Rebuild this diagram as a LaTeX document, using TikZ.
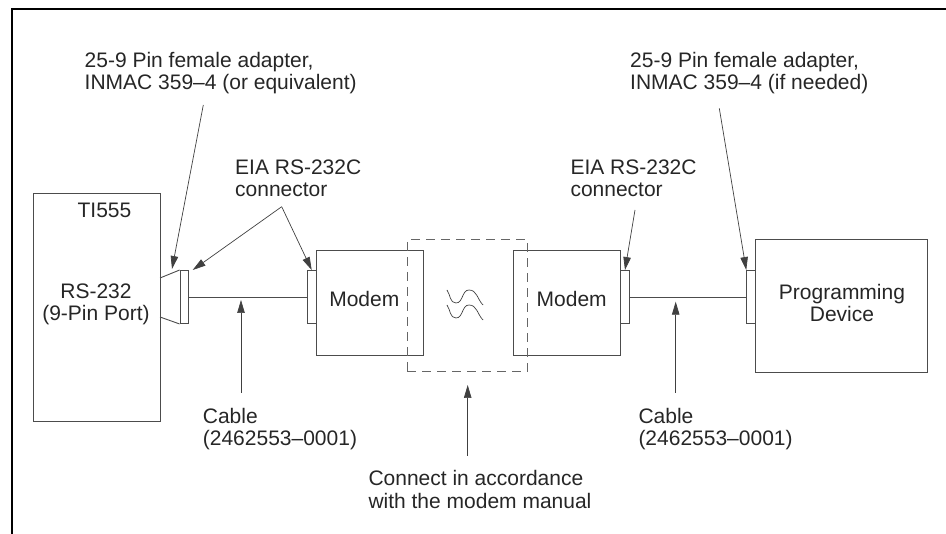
\documentclass[tikz,border=0pt]{standalone}
\usepackage{fontspec}
\setmainfont{Liberation Sans}
\usetikzlibrary{positioning, arrows.meta, calc}

\begin{document}
\begin{tikzpicture}[x=1pt, y=-1pt,
          unit/.style={draw=black!70, line width=0.9pt, inner sep=0pt},
          plug/.style={draw=black!70, line width=0.9pt, inner sep=0pt, minimum width=9pt, minimum height=53pt},
          wire/.style={draw=black!70, line width=0.9pt},
          lbl/.style={font=\fontsize{21}{22.5}\selectfont, text=black!85, inner sep=0pt, align=left},
          ptr/.style={-{Triangle[length=13pt,width=7.5pt]}, draw=black!75, line width=0.7pt},
        ]
        \useasboundingbox (0,0) rectangle (946,534);
        \draw[line width=2pt] (12,534) -- (12,9.5) -- (946,9.5);
        % units
        \node[unit, minimum width=127pt, minimum height=228pt] (plc) at (96.5,307) {};
        \node[plug, minimum width=8pt] (adp) at (184,297) {};
        \draw[wire] (160,278) -- (adp.north west);
        \draw[wire] (160,317) -- (adp.south west);
        \node[plug] (con1) at (311.7,297) {};
        \node[unit, minimum width=106.7pt, minimum height=105pt] (modem1) at (370,302.5) {};
        \node[unit, minimum width=106.7pt, minimum height=105pt] (modem2) at (566.7,302.5) {};
        \node[plug] (con2) at (625,297) {};
        \node[plug] (con3) at (751.2,297) {};
        \node[unit, minimum width=171.6pt, minimum height=132.7pt] (prog) at (841.5,306.3) {};
        \node[draw=black!60, line width=0.9pt, dash pattern=on 9pt off 6pt, minimum width=120pt, minimum height=132.4pt] (link) at (467.3,305.5) {};
        \draw[wire] (adp.east) -- (con1.west);
        \draw[wire] (con2.east) -- (con3.west);
        \draw[black!75, line width=0.7pt] (447,290) to[out=-55,in=180] (456,303) to[out=0,in=180] (469,290) to[out=0,in=135] (483,305);
        \draw[black!75, line width=0.7pt] (447,305) to[out=-55,in=180] (456,318) to[out=0,in=180] (469,305) to[out=0,in=135] (483,320);
        % texts in the units
        \node[lbl, anchor=base] (plcname) at (104.5,217.7) {TI555};
        \node[lbl, anchor=base, align=center] (port) at (96,321) {RS-232\\(9-Pin Port)};
        \node[lbl, anchor=base] (mtxt1) at (364.3,306.7) {Modem};
        \node[lbl, anchor=base] (mtxt2) at (571.7,306.7) {Modem};
        \node[lbl, anchor=base, align=center] (progtxt) at (842,321.7) {Programming\\Device};
        % notes (base = last line)
        \node[lbl, anchor=base west] (adpnote1) at (84.5,90) {25-9 Pin female adapter,\\INMAC 359--4 (or equivalent)};
        \node[lbl, anchor=base west] (adpnote2) at (630,90) {25-9 Pin female adapter,\\INMAC 359--4 (if needed)};
        \node[lbl, anchor=base west] (eianote1) at (235,196.7) {EIA RS-232C\\connector};
        \node[lbl, anchor=base west] (eianote2) at (570.3,196.7) {EIA RS-232C\\connector};
        \node[lbl, anchor=base west] (cable1) at (202.7,446) {Cable\\(2462553--0001)};
        \node[lbl, anchor=base west] (cable2) at (638.3,446) {Cable\\(2462553--0001)};
        \node[lbl, anchor=base west] (linknote) at (368.3,508.3) {Connect in accordance\\with the modem manual};
        % pointers
        \coordinate (p1) at (203.3,105);   \coordinate (t1) at (172,269);
        \coordinate (p2) at (281.7,206.7); \coordinate (t2) at (192.7,270);
        \coordinate (p3) at (635,210);
        \coordinate (p4) at (719.3,108.3);
        \coordinate (p5) at (241,393);     \coordinate (t5) at (241,300);
        \coordinate (p6) at (675.7,393);   \coordinate (t6) at (675.7,301.7);
        \coordinate (p7) at (467.7,456);   \coordinate (t7) at (467.7,385);
        \draw[ptr] (p1) -- (t1);
        \draw[ptr] (p2) -- (t2);
        \draw[ptr] (p2) -- (con1.north);
        \draw[ptr] (p3) -- (con2.north);
        \draw[ptr] (p4) -- (con3.north west);
        \draw[ptr] (p5) -- (t5);
        \draw[ptr] (p6) -- (t6);
        \draw[ptr] (p7) -- (t7);
        \end{tikzpicture}
\end{document}
